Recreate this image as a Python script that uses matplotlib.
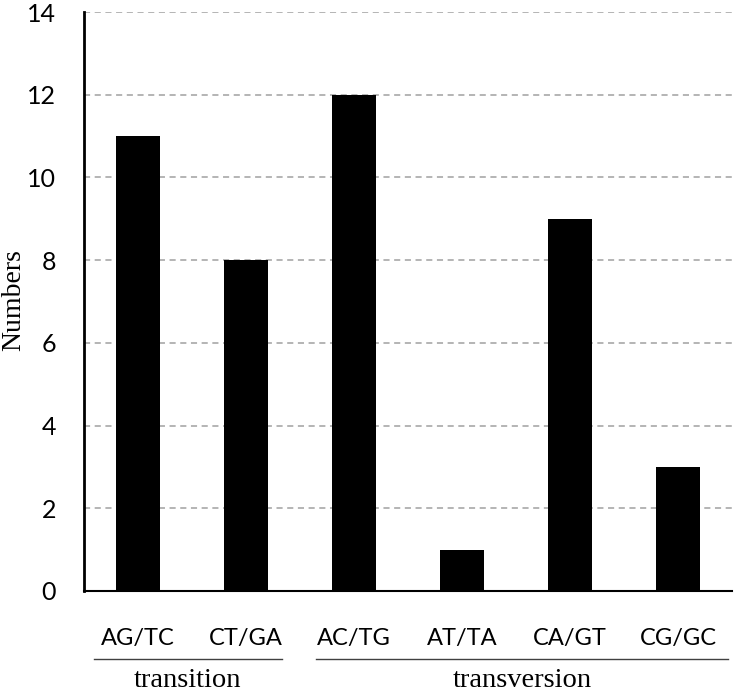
import numpy as np
import matplotlib.pyplot as plt
from matplotlib.transforms import blended_transform_factory

categories = ['AG/TC', 'CT/GA', 'AC/TG', 'AT/TA', 'CA/GT', 'CG/GC']
numbers = [11, 8, 12, 1, 9, 3]
groups = ['transition', 'transversion']
group_spans = [(-0.41, 1.33), (1.65, 5.46)]

fig = plt.figure(figsize=(7.36, 6.92), dpi=100)
ax = fig.add_axes([84/736, 101/692, 648/736, 579/692])

x = np.arange(len(categories))
ax.bar(x, numbers, width=0.41, color='black', zorder=3)

ax.set_xlim(-0.5, len(categories) - 0.5)
ax.set_ylim(0, 14)
ax.set_yticks(np.arange(0, 15, 2))
ax.set_xticks(x)
ax.set_xticklabels(categories, fontsize=17, family='Lato')
for lab in ax.get_yticklabels():
    lab.set_family('Lato')
    lab.set_fontsize(18)
ax.tick_params(axis='x', length=0, pad=27)
ax.tick_params(axis='y', length=0, pad=20)

for y in np.arange(2, 15, 2):
    ax.axhline(y, color='#a0a0a0', linestyle=(0, (4, 3)), linewidth=1.1, zorder=1)

ax.spines['top'].set_visible(False)
ax.spines['right'].set_visible(False)
ax.spines['left'].set_linewidth(2)
ax.spines['bottom'].set_linewidth(1.5)

trans = blended_transform_factory(ax.transData, ax.transAxes)
for name, (x0, x1) in zip(groups, group_spans):
    ax.plot([x0, x1], [-0.117, -0.117], color='#404040', linewidth=1,
            transform=trans, clip_on=False)
    ax.text((x0 + x1) / 2, -0.154, name, transform=trans, ha='center', va='center',
            fontsize=20.5, family='Liberation Serif')

fig.text(14/736, 1 - 300/692, 'Numbers', rotation=90, ha='center', va='center',
         fontsize=20, family='Liberation Serif')

fig.savefig('out.png', dpi=100)
